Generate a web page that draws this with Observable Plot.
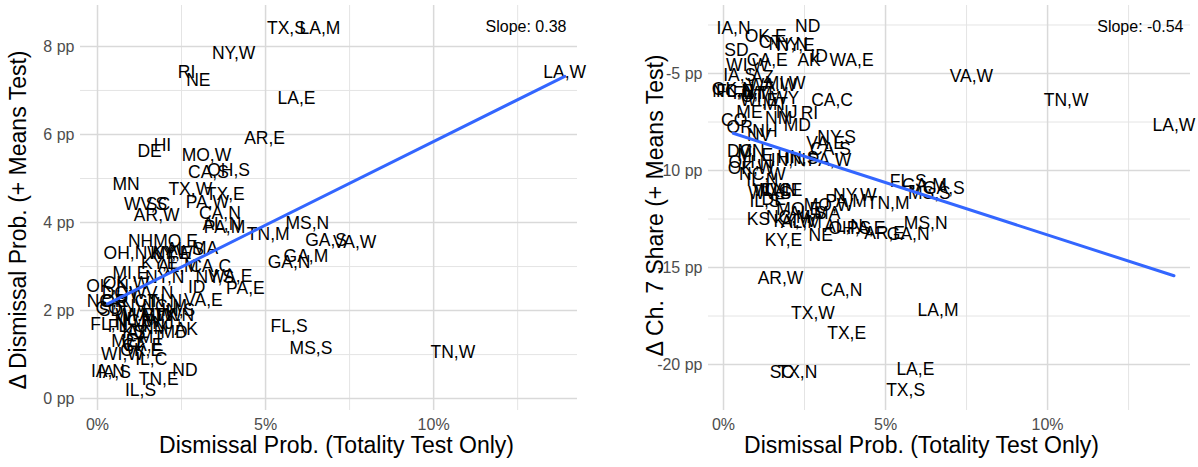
<!DOCTYPE html>
<html>
<head>
<meta charset="utf-8">
<script src="https://cdn.jsdelivr.net/npm/d3@7"></script>
<script src="https://cdn.jsdelivr.net/npm/@observablehq/plot@0.6"></script>
<style>
  body { margin: 0; background: #fff; }
  #row { display: flex; width: 1198px; height: 467px; }
  #row svg { display: block; }
</style>
</head>
<body>
<div id="row"></div>
<script>
// District labels and per-district values
const districts = [
  "LA,W","TN,W","VA,W","LA,M","MS,S","GA,S","GA,M","FL,S","MS,N","GA,N",
  "AR,E","TN,M","LA,E","TX,S","NY,W","OH,S","PA,E","CA,S","VA,E","NY,S",
  "PA,W","PA,M","CA,N","TX,E","TX,W","TX,N","AR,W","MO,W","MO,E","HI",
  "DE","MN","RI","NE","ND","AK","WA,E","NY,E","CA,C","IA,N",
  "OK,E","SD","CT","CA,E","WI,W","IA,S","ID","OK,W","IL,N","TN,E",
  "IL,S","KS","KY,E","ME","NJ","MD","MI,E","MI,W","NH","MA",
  "OH,N","WV,S","SC","FL,N","FL,M","WI,E","WA,W","UT","CO","OR",
  "NV","AZ","NM","MT","WY","VT","KY,W","IN,N","IN,S","IL,C",
  "AL,N","AL,M","AL,S","NC,E","NC,M","NC,W","NY,N","OK,N","WV,N","DC"
];

// Dismissal probability under the totality test alone (%)
const totalityProb = [
  13.9, 10.57, 7.65, 6.62, 6.35, 6.80, 6.20, 5.70, 6.24, 5.70,
  4.97, 5.08, 5.92, 5.62, 4.05, 3.90, 4.40, 3.30, 3.15, 3.49,
  3.27, 3.78, 3.64, 3.80, 2.76, 2.28, 1.76, 3.24, 2.32, 1.93,
  1.55, 0.85, 2.65, 3.00, 2.60, 2.64, 3.95, 2.22, 3.35, 0.31,
  1.30, 0.40, 1.45, 1.35, 0.74, 0.50, 2.95, 0.85, 1.20, 1.82,
  1.28, 1.08, 1.85, 0.80, 1.95, 2.28, 0.98, 1.90, 1.28, 3.20,
  0.83, 1.43, 1.80, 0.35, 0.90, 1.10, 1.50, 0.90, 0.33, 0.50,
  1.10, 1.20, 1.70, 1.60, 1.90, 1.05, 2.20, 2.00, 2.40, 1.60,
  3.70, 2.40, 2.60, 0.30, 2.00, 1.20, 2.00, 0.30, 1.60, 0.50
];

// Change in dismissal probability once the means test is added (pp)
const dismissalDelta = [
  7.40, 1.05, 3.55, 8.41, 1.14, 3.59, 3.23, 1.64, 3.98, 3.09,
  5.91, 3.73, 6.82, 8.41, 7.84, 5.18, 2.50, 5.14, 2.23, 2.75,
  4.45, 3.89, 4.20, 4.64, 4.75, 1.90, 4.16, 5.52, 3.57, 5.75,
  5.61, 4.86, 7.41, 7.23, 0.64, 1.57, 2.77, 3.30, 3.00, 0.61,
  1.10, 2.00, 2.20, 1.20, 1.00, 0.60, 2.52, 2.61, 1.80, 0.43,
  0.18, 1.50, 3.07, 1.30, 1.70, 1.50, 2.84, 1.90, 3.57, 3.41,
  3.30, 4.41, 4.41, 1.68, 1.65, 1.90, 1.90, 2.30, 2.05, 2.20,
  2.10, 1.50, 1.60, 1.40, 3.30, 1.20, 3.30, 2.20, 2.00, 0.90,
  3.95, 3.00, 3.40, 2.20, 2.10, 1.75, 2.75, 2.55, 2.40, 2.40
];

// Change in chapter 7 share once the means test is added (pp)
const ch7Delta = [
  -7.70, -6.40, -5.15, -17.20, -11.20, -10.90, -10.75, -10.57, -12.73, -13.30,
  -13.25, -11.70, -20.26, -21.34, -11.30, -13.00, -13.00, -8.90, -8.60, -8.30,
  -9.48, -11.60, -16.19, -18.40, -17.37, -20.40, -15.57, -11.80, -12.00, -9.30,
  -11.50, -9.00, -7.06, -13.35, -2.58, -4.33, -4.33, -3.56, -6.39, -2.68,
  -3.10, -3.80, -3.40, -4.30, -4.60, -5.10, -4.10, -9.90, -10.50, -11.00,
  -11.60, -12.53, -13.60, -7.00, -7.00, -7.70, -9.20, -5.50, -8.00, -12.20,
  -9.60, -11.20, -20.40, -5.90, -6.00, -6.40, -5.60, -6.20, -7.40, -7.80,
  -8.20, -5.20, -7.30, -6.60, -6.30, -6.00, -12.60, -9.50, -9.40, -11.00,
  -12.90, -12.70, -12.20, -5.90, -12.40, -10.20, -3.50, -5.80, -11.00, -9.00
];

// Fitted linear trend for each panel
const slopes = [0.38, -0.54];
const intercepts = [2.04, -7.92];

// Axis ticks and grid positions
const xTicks = [0, 5, 10];
const xMinor = [2.5, 7.5, 12.5];
const leftTicks = [0, 2, 4, 6, 8];
const leftMinor = [1, 3, 5, 7];
const rightTicks = [-20, -15, -10, -5];
const rightMinor = [-17.5, -12.5, -7.5, -2.5];

const FONT = "'Liberation Sans', Arial, Helvetica, sans-serif";
const idx = d3.range(districts.length);
const xExtent = d3.extent(totalityProb);

function panel({values, fit, yDomain, yTicks, yMinor, yTitle, width, marginLeft, marginRight, xDomain, yTitleDx, yTitleDy, xTitleDx, slopeDx}) {
  const [slope, intercept] = fit;
  const trend = xExtent.map(x => ({x, y: intercept + slope * x}));
  return Plot.plot({
    width,
    height: 467,
    marginLeft,
    marginRight,
    marginTop: 5,
    marginBottom: 57,
    style: {fontFamily: FONT, background: "#fff", overflow: "visible"},
    x: {domain: xDomain, label: null},
    y: {domain: yDomain, label: null},
    marks: [
      Plot.ruleX(xMinor, {stroke: "#e4e4e4", strokeWidth: 1}),
      Plot.ruleY(yMinor, {stroke: "#e4e4e4", strokeWidth: 1}),
      Plot.ruleX(xTicks, {stroke: "#d9d9d9", strokeWidth: 1.5}),
      Plot.ruleY(yTicks, {stroke: "#d9d9d9", strokeWidth: 1.5}),
      Plot.axisX(xTicks, {tickFormat: d => d + "%", tickSize: 0, tickPadding: 8, fontSize: 16, color: "#4d4d4d", label: null}),
      Plot.axisY(yTicks, {tickFormat: d => d + " pp", tickSize: 0, tickPadding: 6, fontSize: 16, color: "#4d4d4d", label: null}),
      Plot.text(idx, {
        x: i => totalityProb[i],
        y: i => values[i],
        text: i => districts[i],
        fontSize: 17.5,
        fill: "#000",
        fontFamily: FONT
      }),
      Plot.line(trend, {x: "x", y: "y", stroke: "#3366FF", strokeWidth: 3}),
      Plot.text([`Slope: ${slope.toFixed(2)}`], {
        frameAnchor: "top-right", dx: slopeDx, dy: 15, textAnchor: "end",
        fontSize: 16, fill: "#000", fontFamily: FONT
      }),
      Plot.text(["Dismissal Prob. (Totality Test Only)"], {
        frameAnchor: "bottom", dx: xTitleDx, dy: 42, textAnchor: "middle",
        fontSize: 23, fill: "#000", fontFamily: FONT
      }),
      Plot.text([yTitle], {
        frameAnchor: "left", dx: yTitleDx, dy: yTitleDy, rotate: -90, textAnchor: "middle",
        fontSize: 23, fill: "#000", fontFamily: FONT
      })
    ]
  });
}

const row = document.getElementById("row");
row.append(panel({
  values: dismissalDelta,
  fit: [slopes[0], intercepts[0]],
  yDomain: [-0.27, 8.93],
  yTicks: leftTicks,
  yMinor: leftMinor,
  yTitle: "Δ Dismissal Prob. (+ Means Test)",
  width: 600, marginLeft: 80, marginRight: 23,
  xDomain: [-0.506, 14.28],
  yTitleDx: -62, yTitleDy: 12, xTitleDx: 7.5, slopeDx: -11
}));
row.append(panel({
  values: ch7Delta,
  fit: [slopes[1], intercepts[1]],
  yDomain: [-22.37, -1.495],
  yTicks: rightTicks,
  yMinor: rightMinor,
  yTitle: "Δ Ch. 7 Share (+ Means Test)",
  width: 598, marginLeft: 108, marginRight: 8,
  xDomain: [-0.463, 14.41],
  yTitleDx: -53, yTitleDy: -2.5, xTitleDx: -28, slopeDx: -7
}));
</script>
</body>
</html>
